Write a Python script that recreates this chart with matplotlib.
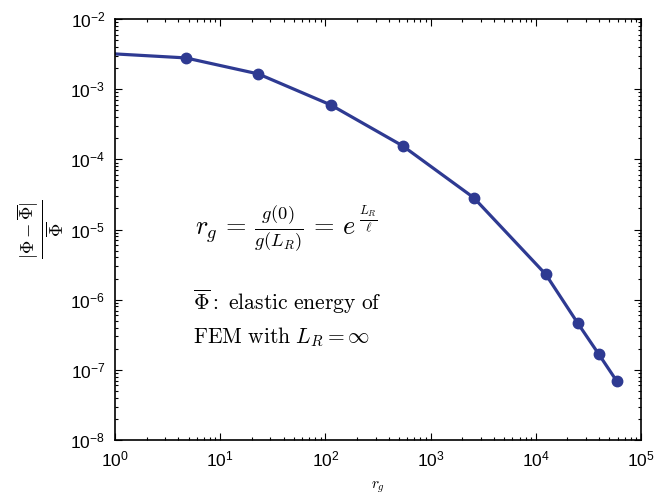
import matplotlib
matplotlib.use('Agg')
import matplotlib.pyplot as plt
from matplotlib.ticker import LogLocator, NullFormatter

# data
r_g = [1.0, 4.7, 23, 112, 541, 2570, 12450, 25100, 39800, 59000]
rel_err = [3.18e-3, 2.79e-3, 1.65e-3, 5.98e-4, 1.56e-4, 2.84e-5, 2.29e-6, 4.6e-7, 1.66e-7, 6.86e-8]
# first point is only the line start, no marker
marked = slice(1, None)

xticks = [1e0, 1e1, 1e2, 1e3, 1e4, 1e5]
yticks = [1e-8, 1e-7, 1e-6, 1e-5, 1e-4, 1e-3, 1e-2]

plt.rcParams['font.family'] = 'Liberation Sans'
plt.rcParams['mathtext.fontset'] = 'custom'
plt.rcParams['mathtext.rm'] = 'Liberation Sans'
plt.rcParams['mathtext.it'] = 'Liberation Sans:italic'
plt.rcParams['mathtext.bf'] = 'Liberation Sans:bold'

col = '#2e3a92'

fig = plt.figure(figsize=(6.55, 5.0), dpi=100)
ax = fig.add_axes([115/655, 60/500, 526/655, 421/500])

ax.plot(r_g, rel_err, '-', color=col, lw=2.3)
ax.plot(r_g[marked], rel_err[marked], 'o', color=col, ms=7.5, mec=col)

ax.set_xscale('log')
ax.set_yscale('log')
ax.set_xlim(1, 1e5)
ax.set_ylim(1e-8, 1e-2)
ax.set_xticks(xticks)
ax.set_yticks(yticks)
ax.xaxis.set_minor_locator(LogLocator(base=10, subs=range(2, 10), numticks=20))
ax.yaxis.set_minor_locator(LogLocator(base=10, subs=range(2, 10), numticks=20))
ax.xaxis.set_minor_formatter(NullFormatter())
ax.yaxis.set_minor_formatter(NullFormatter())

ax.tick_params(which='both', direction='in', top=True, right=True, labelsize=12.5, width=0.8)
ax.tick_params(which='major', length=5, pad=7)
ax.tick_params(which='minor', length=2.5)
for s in ax.spines.values():
    s.set_linewidth(1.2)

ax.set_xlabel(r'$r_g$', fontsize=11, math_fontfamily='cm', labelpad=7)
ax.set_ylabel(r'$\frac{|\Phi-\overline{\Phi}|}{\overline{\Phi}}$', fontsize=19,
              math_fontfamily='cm', labelpad=4)

fig.text(195/655, 1 - 228/500, r'$r_g\,=\,\frac{g(0)}{g(L_R)}\,=\,e^{\,\frac{L_R}{\ell}}$',
         fontsize=19, math_fontfamily='cm', va='center', ha='left')
fig.text(193/655, 1 - 302/500, r'$\overline{\Phi}\mathrm{:\ elastic\ energy\ of}$',
         fontsize=15.5, math_fontfamily='cm', va='center', ha='left')
fig.text(193/655, 1 - 337/500, r'$\mathrm{FEM\ with\ }L_R=\infty$',
         fontsize=15.5, math_fontfamily='cm', va='center', ha='left')

fig.savefig('out.png', dpi=100)
